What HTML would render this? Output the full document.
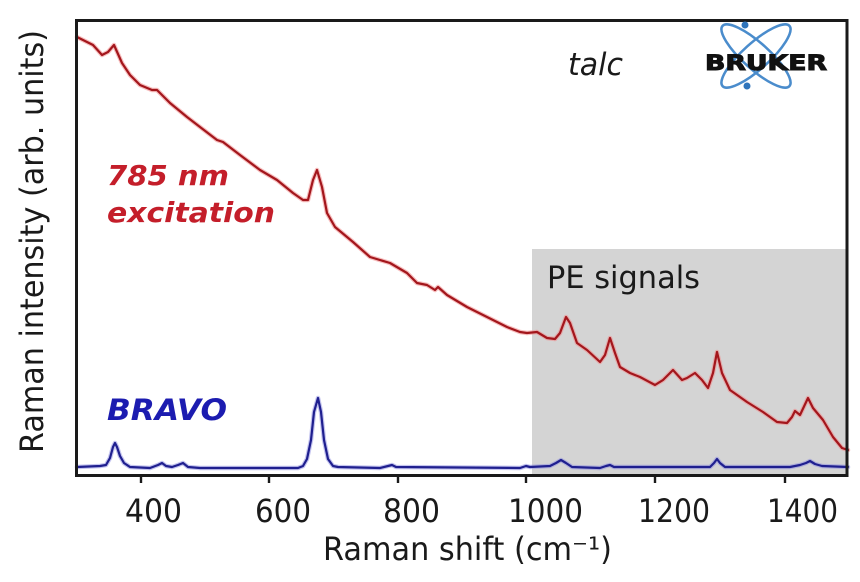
<!DOCTYPE html>
<html>
<head>
<meta charset="utf-8">
<style>
html,body{margin:0;padding:0;background:#fff;}
svg{display:block;}
text{font-family:"DejaVu Sans","Liberation Sans",sans-serif;}
</style>
</head>
<body>
<svg width="860" height="582" viewBox="0 0 860 582" xmlns="http://www.w3.org/2000/svg">
<rect x="0" y="0" width="860" height="582" fill="#fff"/>
<!-- gray PE region -->
<rect x="532" y="249" width="316" height="227" fill="#d4d4d4"/>
<text x="547" y="288" font-size="31" fill="#1a1a1a" textLength="153" lengthAdjust="spacingAndGlyphs">PE signals</text>

<!-- red curve -->
<g fill="none" stroke-linejoin="round" stroke-linecap="round">
<polyline stroke="#f08a8a" stroke-width="4.5" opacity="0.55" points="77,37 93,45 102,55 108,52 114,45 122,63 130,75 140,85 152,90 157,90 170,103 187,117 200,127 217,140 223,142 240,155 260,170 277,180 293,193 303,200 308,200 313,180 317,170 322,187 327,213 335,227 347,237 353,242 370,257 390,263 407,273 417,283 427,285 435,290 438,287 447,295 467,307 487,317 507,327 520,332 527,333 537,332 547,338 555,339 560,333 566,317 570,323 577,343 587,350 600,362 605,355 610,338 615,353 620,367 630,373 640,377 655,385 663,380 673,370 682,380 687,378 695,373 702,380 708,388 713,373 717,352 722,373 730,390 747,402 763,412 777,422 787,423 792,417 795,411 800,415 808,398 813,408 823,420 833,437 842,448 848,450"/>
<polyline stroke="#a3161c" stroke-width="2.2" points="77,37 93,45 102,55 108,52 114,45 122,63 130,75 140,85 152,90 157,90 170,103 187,117 200,127 217,140 223,142 240,155 260,170 277,180 293,193 303,200 308,200 313,180 317,170 322,187 327,213 335,227 347,237 353,242 370,257 390,263 407,273 417,283 427,285 435,290 438,287 447,295 467,307 487,317 507,327 520,332 527,333 537,332 547,338 555,339 560,333 566,317 570,323 577,343 587,350 600,362 605,355 610,338 615,353 620,367 630,373 640,377 655,385 663,380 673,370 682,380 687,378 695,373 702,380 708,388 713,373 717,352 722,373 730,390 747,402 763,412 777,422 787,423 792,417 795,411 800,415 808,398 813,408 823,420 833,437 842,448 848,450"/>
<!-- blue curve -->
<polyline stroke="#8a8ae0" stroke-width="4.5" opacity="0.5" points="77,467 100,466 106,465 110,458 113,447 115,443 117,447 120,456 124,463 130,467 150,468 158,465 162,463 166,466 172,467 178,465 183,463 188,467 200,468 298,468 303,466 307,459 311,440 314,412 318,398 321,412 324,440 328,459 333,466 338,467 380,468 388,466 392,465 396,467 520,468 526,466 530,467 550,466 556,463 561,460 566,463 572,467 600,468 606,466 610,465 614,467 710,467 714,463 717,459 720,463 725,467 790,467 800,465 806,463 810,461 815,464 822,466 848,467"/>
<polyline stroke="#1f1f8f" stroke-width="2.2" points="77,467 100,466 106,465 110,458 113,447 115,443 117,447 120,456 124,463 130,467 150,468 158,465 162,463 166,466 172,467 178,465 183,463 188,467 200,468 298,468 303,466 307,459 311,440 314,412 318,398 321,412 324,440 328,459 333,466 338,467 380,468 388,466 392,465 396,467 520,468 526,466 530,467 550,466 556,463 561,460 566,463 572,467 600,468 606,466 610,465 614,467 710,467 714,463 717,459 720,463 725,467 790,467 800,465 806,463 810,461 815,464 822,466 848,467"/>
</g>

<!-- frame -->
<rect x="76.5" y="20.5" width="770.5" height="455" fill="none" stroke="#1a1a1a" stroke-width="3"/>
<!-- ticks -->
<g stroke="#1a1a1a" stroke-width="2.4">
<line x1="141" y1="476" x2="141" y2="483"/>
<line x1="269" y1="476" x2="269" y2="483"/>
<line x1="398" y1="476" x2="398" y2="483"/>
<line x1="526" y1="476" x2="526" y2="483"/>
<line x1="655" y1="476" x2="655" y2="483"/>
<line x1="785" y1="476" x2="785" y2="483"/>
</g>
<g font-size="32" fill="#1a1a1a">
<text x="125" y="522" textLength="57" lengthAdjust="spacingAndGlyphs">400</text>
<text x="255" y="522" textLength="56" lengthAdjust="spacingAndGlyphs">600</text>
<text x="383" y="522" textLength="57" lengthAdjust="spacingAndGlyphs">800</text>
<text x="508" y="522" textLength="75" lengthAdjust="spacingAndGlyphs">1000</text>
<text x="638" y="522" textLength="72" lengthAdjust="spacingAndGlyphs">1200</text>
<text x="767" y="522" textLength="71" lengthAdjust="spacingAndGlyphs">1400</text>
<text x="323" y="560" textLength="289" lengthAdjust="spacingAndGlyphs">Raman shift (cm⁻¹)</text>
<text transform="translate(43,453) rotate(-90)" x="0" y="0" textLength="423" lengthAdjust="spacingAndGlyphs">Raman intensity (arb. units)</text>
</g>

<!-- talc -->
<text x="568" y="75" font-size="31" font-style="italic" fill="#1a1a1a" textLength="55" lengthAdjust="spacingAndGlyphs">talc</text>

<!-- labels -->
<g font-size="28" font-weight="bold" font-style="italic">
<text x="107" y="185" fill="#c41e2a" textLength="122" lengthAdjust="spacingAndGlyphs">785 nm</text>
<text x="107" y="222" fill="#c41e2a" textLength="168" lengthAdjust="spacingAndGlyphs">excitation</text>
<text x="107" y="420" fill="#1c1cb0" font-size="29" textLength="120" lengthAdjust="spacingAndGlyphs">BRAVO</text>
</g>

<!-- Bruker logo -->
<g fill="none" stroke="#4a8ccc" stroke-width="2.5">
<ellipse cx="756" cy="56" rx="45" ry="13" transform="rotate(42 756 56)"/>
<ellipse cx="756" cy="56" rx="45" ry="13" transform="rotate(-42 756 56)"/>
</g>
<circle cx="745" cy="25" r="3.5" fill="#2f74bb"/>
<circle cx="747" cy="86" r="3.5" fill="#2f74bb"/>
<text x="705" y="70" font-size="21" font-weight="bold" fill="#111" textLength="122" lengthAdjust="spacingAndGlyphs" stroke="#111" stroke-width="1">BRUKER</text>
</svg>
</body>
</html>
